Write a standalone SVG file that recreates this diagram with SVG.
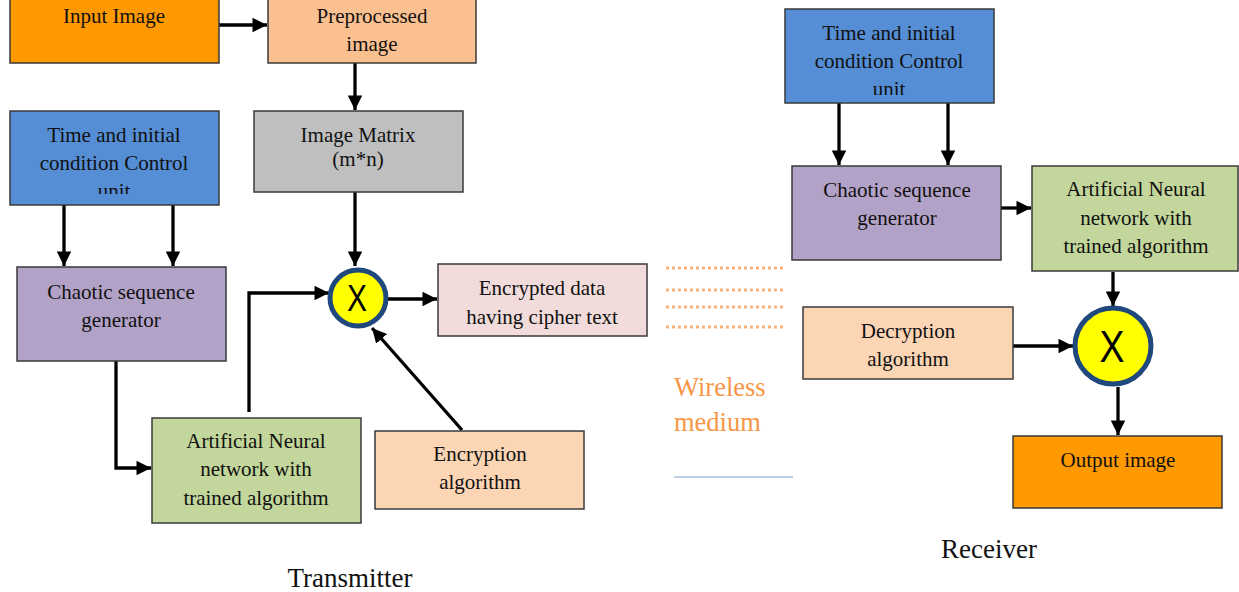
<svg xmlns="http://www.w3.org/2000/svg" width="1239" height="592" viewBox="0 0 1239 592">
<style>
.box{stroke:#3a3a3a;stroke-width:1.5}
.t{font-family:"Liberation Serif","Times New Roman",serif;font-size:21px;fill:#111;text-anchor:middle}
.c{stroke:#000;stroke-width:3.3;fill:none}
.x{fill:#ffff00;stroke:#1f497d;stroke-width:5}
.xt{font-family:"Liberation Sans",Arial,sans-serif;fill:#000;text-anchor:middle}
.dot{stroke:#f9b27c;stroke-width:3;stroke-dasharray:3 3}
.lbl{font-family:"Liberation Serif","Times New Roman",serif;font-size:27px;fill:#111;text-anchor:middle}
</style>
<defs>
<marker id="ah" viewBox="0 0 10 10" refX="10" refY="5" markerWidth="4.4" markerHeight="4.4" orient="auto" markerUnits="strokeWidth">
<path d="M0,0 L10,5 L0,10 z" fill="#000"/>
</marker>
<clipPath id="clipL"><rect x="10" y="111" width="209" height="83"/></clipPath>
<clipPath id="clipR"><rect x="785" y="9" width="209" height="86"/></clipPath>
</defs>
<rect width="1239" height="592" fill="#fff"/>

<g id="connectors">
<line class="c" x1="219" y1="25" x2="267" y2="25" marker-end="url(#ah)"/>
<line class="c" x1="355" y1="63" x2="355" y2="110" marker-end="url(#ah)"/>
<line class="c" x1="64" y1="205" x2="64" y2="266" marker-end="url(#ah)"/>
<line class="c" x1="173" y1="205" x2="173" y2="266" marker-end="url(#ah)"/>
<polyline class="c" points="116,361 116,468 151,468" marker-end="url(#ah)"/>
<polyline class="c" points="249,412 249,293 329,293" marker-end="url(#ah)"/>
<line class="c" x1="355" y1="192" x2="355" y2="266" marker-end="url(#ah)"/>
<line class="c" x1="388" y1="299" x2="437" y2="299" marker-end="url(#ah)"/>
<line class="c" x1="462" y1="430" x2="372" y2="328" marker-end="url(#ah)"/>
<line class="c" x1="839" y1="103" x2="839" y2="165" marker-end="url(#ah)"/>
<line class="c" x1="948" y1="103" x2="948" y2="165" marker-end="url(#ah)"/>
<line class="c" x1="1001" y1="208" x2="1031" y2="208" marker-end="url(#ah)"/>
<line class="c" x1="1113" y1="272" x2="1113" y2="306" marker-end="url(#ah)"/>
<line class="c" x1="1013" y1="346" x2="1073" y2="346" marker-end="url(#ah)"/>
<line class="c" x1="1118" y1="387" x2="1118" y2="435" marker-end="url(#ah)"/>
</g>

<g id="wireless">
<line class="dot" x1="666" y1="268" x2="784" y2="268"/>
<line class="dot" x1="666" y1="290" x2="784" y2="290"/>
<line class="dot" x1="666" y1="307" x2="784" y2="307"/>
<line class="dot" x1="666" y1="327" x2="784" y2="327"/>
<text x="674" y="396" font-family="Liberation Serif,'Times New Roman',serif" font-size="26.5" fill="#f79646">Wireless</text>
<text x="674" y="431" font-family="Liberation Serif,'Times New Roman',serif" font-size="26.5" fill="#f79646">medium</text>
<line x1="674" y1="477" x2="793" y2="477" stroke="#a7bfdc" stroke-width="1.5"/>
</g>

<g id="input-image">
<rect class="box" x="10" y="-2" width="209" height="65" fill="#ff9900"/>
<text class="t" x="114" y="23">Input Image</text>
</g>
<g id="preprocessed">
<rect class="box" x="268" y="-2" width="208" height="65" fill="#fac090"/>
<text class="t" x="372" y="23">Preprocessed</text>
<text class="t" x="372" y="51">image</text>
</g>
<g id="image-matrix">
<rect class="box" x="254" y="111" width="209" height="81" fill="#bfbfbf"/>
<text class="t" x="358" y="142">Image Matrix</text>
<text class="t" x="358" y="166">(m*n)</text>
</g>
<g id="tx-control">
<rect class="box" x="10" y="111" width="209" height="94" fill="#558ed5"/>
<g clip-path="url(#clipL)">
<text class="t" x="114" y="142">Time and initial</text>
<text class="t" x="114" y="170">condition Control</text>
<text class="t" x="114" y="198">unit</text>
</g>
</g>
<g id="tx-chaotic">
<rect class="box" x="17" y="267" width="209" height="94" fill="#b3a2c7"/>
<text class="t" x="121" y="299">Chaotic sequence</text>
<text class="t" x="121" y="327">generator</text>
</g>
<g id="tx-ann">
<rect class="box" x="152" y="418" width="209" height="105" fill="#c3d69b"/>
<text class="t" x="256" y="448">Artificial Neural</text>
<text class="t" x="256" y="476">network with</text>
<text class="t" x="256" y="505">trained algorithm</text>
</g>
<g id="tx-mult">
<circle class="x" cx="358" cy="298" r="28"/>
<text class="xt" x="357" y="311" font-size="36" textLength="20" lengthAdjust="spacingAndGlyphs">X</text>
</g>
<g id="encrypted">
<rect class="box" x="438" y="264" width="209" height="72" fill="#f2dcdb"/>
<text class="t" x="542" y="295">Encrypted data</text>
<text class="t" x="542" y="324">having cipher text</text>
</g>
<g id="encryption">
<rect class="box" x="375" y="431" width="209" height="78" fill="#fcd5b5"/>
<text class="t" x="480" y="461">Encryption</text>
<text class="t" x="480" y="489">algorithm</text>
</g>

<g id="rx-control">
<rect class="box" x="785" y="9" width="209" height="94" fill="#558ed5"/>
<g clip-path="url(#clipR)">
<text class="t" x="889" y="40">Time and initial</text>
<text class="t" x="889" y="68">condition Control</text>
<text class="t" x="889" y="96">unit</text>
</g>
</g>
<g id="rx-chaotic">
<rect class="box" x="792" y="166" width="209" height="94" fill="#b3a2c7"/>
<text class="t" x="897" y="197">Chaotic sequence</text>
<text class="t" x="897" y="225">generator</text>
</g>
<g id="rx-ann">
<rect class="box" x="1032" y="166" width="206" height="105" fill="#c3d69b"/>
<text class="t" x="1136" y="196">Artificial Neural</text>
<text class="t" x="1136" y="225">network with</text>
<text class="t" x="1136" y="253">trained algorithm</text>
</g>
<g id="rx-mult">
<circle class="x" cx="1113" cy="346" r="38"/>
<text class="xt" x="1112" y="362" font-size="44" textLength="25" lengthAdjust="spacingAndGlyphs">X</text>
</g>
<g id="decryption">
<rect class="box" x="803" y="307" width="210" height="72" fill="#fcd5b5"/>
<text class="t" x="908" y="338">Decryption</text>
<text class="t" x="908" y="366">algorithm</text>
</g>
<g id="output-image">
<rect class="box" x="1013" y="436" width="209" height="72" fill="#ff9900"/>
<text class="t" x="1118" y="467">Output image</text>
</g>

<text class="lbl" x="989" y="558">Receiver</text>
<text class="lbl" x="350" y="587">Transmitter</text>
</svg>
